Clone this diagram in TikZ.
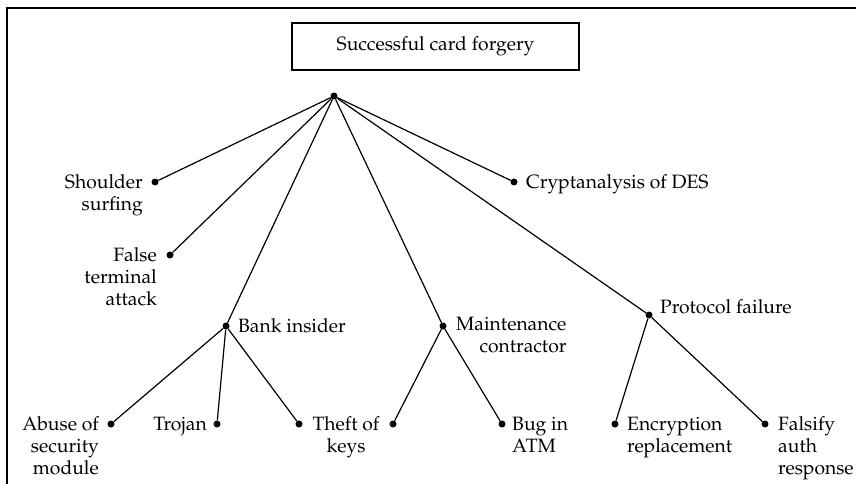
\documentclass[tikz,border=0pt]{standalone}
\usepackage[T1]{fontenc}
\usepackage{mathpazo}
\usepackage{tikz}
\usetikzlibrary{positioning}
\usetikzlibrary{calc}
\tikzset{
    rootbox/.style = {rectangle, draw=black, line width=2pt, minimum width=287pt, minimum height=47pt, inner sep=0pt},
    mydot/.style = {circle, fill=black, inner sep=0pt, minimum size=7pt},
    lbll/.style = {anchor=base east, align=right, inner sep=0pt},
    lblr/.style = {anchor=base west, align=left, inner sep=0pt},
    lblc/.style = {anchor=base, align=center, inner sep=0pt},
    edgen/.style = {line width=1.2pt, black},
    framel/.style = {line width=1.4pt, black},
    every picture/.style={font issue=\fontsize{19.3}{22}},
    font issue/.style={execute at begin picture={#1\selectfont}
  }
}
\begin{document}
\begin{tikzpicture}[x=1pt, y=-1pt]
\useasboundingbox (0,0) rectangle (856,484);
\draw[framel] (7,484) -- (7,8) -- (856,8);
%
\node[rootbox] at (435.5, 46.5) (sc) {Successful card forgery};
\node[mydot] at (334, 96) (top) {};
%
\node[mydot] at (155, 182) (ss) {};
\node[mydot] at (170, 255) (fta) {};
\node[mydot] at (226, 326) (bi) {};
\node[mydot] at (443, 326) (mc) {};
\node[mydot] at (649, 315) (pf) {};
\node[mydot] at (514, 182) (des) {};
%
\node[mydot] at (111, 424) (asm) {};
\node[mydot] at (217, 424) (tro) {};
\node[mydot] at (299, 424) (tk) {};
\node[mydot] at (393, 424) (tkm) {};
\node[mydot] at (502, 424) (bug) {};
\node[mydot] at (615, 424) (enc) {};
\node[mydot] at (765, 424) (fal) {};
%
% multi-line labels hang on their last baseline
\node[lbll] at ([xshift=-12pt, yshift=-28pt]ss.center) (ssl) {Shoulder\\surfing};
\node[lbll] at ([xshift=-13pt, yshift=-50pt]fta.center) (ftal) {False\\terminal\\attack};
\node[lblr] at ([xshift=12pt, yshift=-6pt]bi.center) (bil) {Bank insider};
\node[lbll, anchor=base west] at ([xshift=13pt, yshift=-26pt]mc.center) (mcl) {Maintenance\\contractor};
\node[lblr] at ([xshift=11pt, yshift=2pt]pf.center) (pfl) {Protocol failure};
\node[lblr] at ([xshift=12pt, yshift=-6pt]des.center) (desl) {Cryptanalysis of DES};
%
\node[lbll] at ([xshift=-12pt, yshift=-50pt]asm.center) (asml) {Abuse of\\security\\module};
\node[lbll] at ([xshift=-10pt, yshift=-6pt]tro.center) (trol) {Trojan};
\node[lblc] at ([yshift=-28pt]$(tk)!0.5!(tkm)$) (tkl) {Theft of\\keys};
\node[lblr] at ([xshift=10pt, yshift=-28pt]bug.center) (bugl) {Bug in\\ATM};
\node[lblr] at ([xshift=12pt, yshift=-28pt]enc.center) (encl) {Encryption\\replacement};
\node[lblr] at ([xshift=13pt, yshift=-50pt]fal.center) (fall) {Falsify\\auth\\response};
%
\draw[edgen] (top) edge (ss);
\draw[edgen] (top) edge (fta);
\draw[edgen] (top) edge (bi);
\draw[edgen] (top) edge (mc);
\draw[edgen] (top) edge (pf);
\draw[edgen] (top) edge (des);
\draw[edgen] (bi) edge (asm);
\draw[edgen] (bi) edge (tro);
\draw[edgen] (bi) edge (tk);
\draw[edgen] (mc) edge (tkm);
\draw[edgen] (mc) edge (bug);
\draw[edgen] (pf) edge (enc);
\draw[edgen] (pf) edge (fal);

\end{tikzpicture}
\end{document}
